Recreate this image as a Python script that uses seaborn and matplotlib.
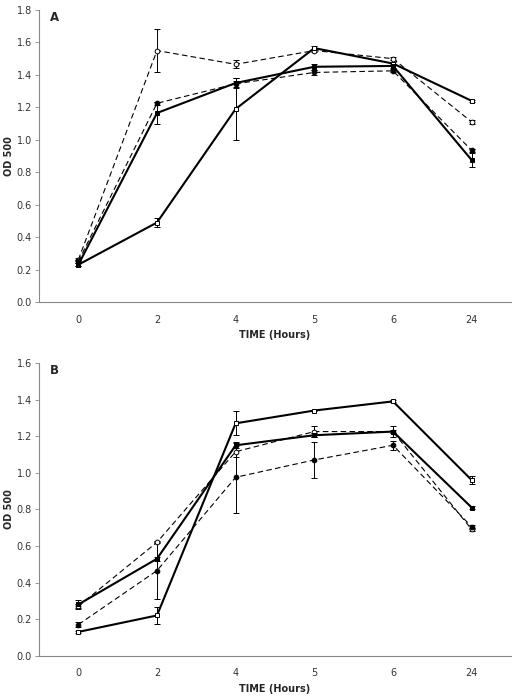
import numpy as np
import pandas as pd
import matplotlib
matplotlib.use("Agg")
import matplotlib.pyplot as plt
import seaborn as sns

# categories on the x axis (hours)
hours = ["0", "2", "4", "5", "6", "24"]

# Panel A
a_open_circle = [0.26, 1.55, 1.465, 1.55, 1.50, 1.11]
a_open_circle_err = [0.01, 0.13, 0.025, 0.01, 0.01, 0.01]
a_open_square = [0.23, 0.49, 1.19, 1.565, 1.47, 1.24]
a_open_square_err = [0.01, 0.03, 0.19, 0.01, 0.01, 0.005]
a_filled_square = [0.23, 1.165, 1.35, 1.45, 1.455, 0.875]
a_filled_square_err = [0.01, 0.065, 0.03, 0.02, 0.01, 0.045]
a_filled_circle = [0.25, 1.225, 1.345, 1.415, 1.425, 0.935]
a_filled_circle_err = [0.01, 0.01, 0.02, 0.015, 0.01, 0.01]

# Panel B
b_open_square = [0.13, 0.22, 1.27, 1.34, 1.39, 0.96]
b_open_square_err = [0.005, 0.045, 0.065, 0.005, 0.005, 0.02]
b_filled_square = [0.28, 0.53, 1.15, 1.205, 1.225, 0.81]
b_filled_square_err = [0.025, 0.01, 0.015, 0.01, 0.01, 0.01]
b_open_circle = [0.27, 0.62, 1.115, 1.225, 1.225, 0.69]
b_open_circle_err = [0.01, 0.005, 0.03, 0.03, 0.03, 0.01]
b_filled_circle = [0.17, 0.465, 0.975, 1.07, 1.15, 0.705]
b_filled_circle_err = [0.015, 0.155, 0.195, 0.10, 0.025, 0.01]

sns.set_style("white")
plt.rcParams['font.family'] = ['DejaVu Sans']

fig = plt.figure(figsize=(5.15, 6.98), dpi=100)
ax_a = fig.add_axes([0.0757, 0.5673, 0.9165, 0.4184])
ax_b = fig.add_axes([0.0757, 0.0606, 0.9165, 0.4194])

x = np.arange(len(hours))

styles = {
    "open_circle": dict(marker="o", mfc="white", ls=(0, (5, 3)), lw=0.8, ms=3.4),
    "filled_circle": dict(marker="o", mfc="black", ls=(0, (5, 3)), lw=0.8, ms=3.4),
    "open_square": dict(marker="s", mfc="white", ls="-", lw=1.5, ms=3.0),
    "filled_square": dict(marker="s", mfc="black", ls="-", lw=1.5, ms=3.0),
}


def draw_series(ax, values, errs, kind):
    st = styles[kind]
    df = pd.DataFrame({"x": x, "y": values})
    sns.lineplot(data=df, x="x", y="y", ax=ax, color="black",
                 linestyle=st["ls"], linewidth=st["lw"], marker=st["marker"],
                 markersize=st["ms"], markerfacecolor=st["mfc"],
                 markeredgecolor="black", markeredgewidth=0.7, zorder=3)
    ax.errorbar(x, values, yerr=errs, fmt="none", ecolor="black",
                elinewidth=0.7, capsize=2, capthick=0.7, zorder=2)


def style_axis(ax, ymax, label):
    ax.set_xlim(-0.5, len(hours) - 0.5)
    ax.set_ylim(0, ymax)
    ax.set_yticks(np.arange(0, ymax + 0.001, 0.2))
    ax.set_yticklabels([f"{v:.1f}" for v in np.arange(0, ymax + 0.001, 0.2)])
    ax.set_xticks(x)
    ax.set_xticklabels(hours)
    ax.set_xticks(np.arange(-0.5, len(hours)), minor=True)
    ax.tick_params(axis="x", which="major", length=0, pad=9, labelsize=7, labelcolor="#333333")
    ax.tick_params(axis="x", which="minor", length=3, width=0.6, color="#888888", direction="out")
    ax.tick_params(axis="y", length=3, width=0.6, color="#888888", direction="out",
                   labelsize=7, labelcolor="#333333", pad=2, left=True)
    for side in ["top", "right"]:
        ax.spines[side].set_visible(False)
    for side in ["left", "bottom"]:
        ax.spines[side].set_color("#888888")
        ax.spines[side].set_linewidth(0.8)
    ax.set_xlabel("TIME (Hours)", fontsize=7, fontweight="bold", labelpad=4)
    ax.set_ylabel("OD 500", fontsize=7, fontweight="bold", labelpad=2)
    ax.text(0.023, 0.995, label, transform=ax.transAxes, fontsize=8.5,
            fontweight="bold", va="top", ha="left")


draw_series(ax_a, a_open_circle, a_open_circle_err, "open_circle")
draw_series(ax_a, a_filled_circle, a_filled_circle_err, "filled_circle")
draw_series(ax_a, a_open_square, a_open_square_err, "open_square")
draw_series(ax_a, a_filled_square, a_filled_square_err, "filled_square")
style_axis(ax_a, 1.8, "A")

draw_series(ax_b, b_open_circle, b_open_circle_err, "open_circle")
draw_series(ax_b, b_filled_circle, b_filled_circle_err, "filled_circle")
draw_series(ax_b, b_open_square, b_open_square_err, "open_square")
draw_series(ax_b, b_filled_square, b_filled_square_err, "filled_square")
style_axis(ax_b, 1.6, "B")

fig.savefig("out.png", dpi=100)
plt.close(fig)
